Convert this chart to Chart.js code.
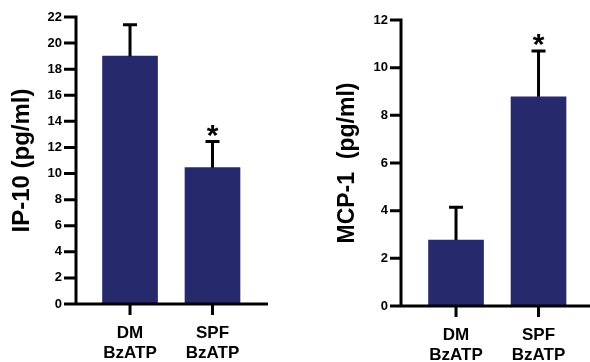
<!DOCTYPE html>
<html>
<head>
<meta charset="utf-8">
<script src="https://cdn.jsdelivr.net/npm/chart.js@4/dist/chart.umd.min.js"></script>
<style>
  html, body { margin: 0; padding: 0; background: #fff; }
  #wrap { position: relative; width: 590px; height: 362px; overflow: hidden; }
  .panel { position: absolute; top: 0; width: 295px; height: 362px; }
  #p1 { left: 0; }
  #p2 { left: 295px; }
</style>
</head>
<body>
<div id="wrap">
  <div class="panel" id="p1"><canvas id="c1"></canvas></div>
  <div class="panel" id="p2"><canvas id="c2"></canvas></div>
</div>
<script>
// ---- data ----
const categories = [["DM", "BzATP"], ["SPF", "BzATP"]];
const ip10Values = [19.0, 10.45];
const ip10Errors = [2.4, 2.0];
const ip10Stars = [false, true];
const mcp1Values = [2.77, 8.78];
const mcp1Errors = [1.37, 1.92];
const mcp1Stars = [false, true];
const ip10Ticks = { min: 0, max: 22, step: 2 };
const mcp1Ticks = { min: 0, max: 12, step: 2 };

const BAR = '#27296d';
const FONT = "'Liberation Sans', Arial, sans-serif";
const CLEAR = 'rgba(0,0,0,0)';

const errorPlugin = {
  id: 'errbars',
  afterDatasetsDraw(chart, args, opts) {
    const ctx = chart.ctx;
    const meta = chart.getDatasetMeta(0);
    const ys = chart.scales.y;
    ctx.save();
    meta.data.forEach((bar, i) => {
      const v = opts.values[i], e = opts.errors[i];
      const yBar = ys.getPixelForValue(v);
      const yTop = ys.getPixelForValue(v + e);
      ctx.strokeStyle = '#000';
      ctx.lineWidth = 3;
      ctx.beginPath();
      ctx.moveTo(bar.x, yBar);
      ctx.lineTo(bar.x, yTop);
      ctx.moveTo(bar.x - 7, yTop);
      ctx.lineTo(bar.x + 7, yTop);
      ctx.stroke();
      if (opts.stars[i]) {
        ctx.fillStyle = '#000';
        ctx.font = 'bold 30px ' + FONT;
        ctx.textAlign = 'center';
        ctx.textBaseline = 'alphabetic';
        ctx.fillText('*', bar.x, yTop + 3);
      }
    });
    ctx.restore();
  }
};

const axesPlugin = {
  id: 'axeslines',
  afterDraw(chart, args, opts) {
    const ctx = chart.ctx;
    const xs = chart.scales.x, ys = chart.scales.y;
    const a = chart.chartArea;
    ctx.save();
    ctx.strokeStyle = '#000';
    ctx.lineWidth = 3;
    ctx.lineCap = 'butt';
    ctx.beginPath();
    // y axis
    ctx.moveTo(a.left, a.top - 1.5);
    ctx.lineTo(a.left, a.bottom + 1.5);
    // x axis
    ctx.moveTo(a.left, a.bottom);
    ctx.lineTo(a.right, a.bottom);
    // y ticks
    ys.ticks.forEach(t => {
      const y = ys.getPixelForValue(t.value);
      ctx.moveTo(a.left - opts.yTickLen, y);
      ctx.lineTo(a.left, y);
    });
    // x ticks
    xs.ticks.forEach(t => {
      const x = xs.getPixelForValue(t.value);
      ctx.moveTo(x, a.bottom);
      ctx.lineTo(x, a.bottom + opts.xTickLen);
    });
    ctx.stroke();
    ctx.restore();
  }
};

function makeChart(id, values, errors, stars, yt, title, o) {
  return new Chart(document.getElementById(id), {
    type: 'bar',
    data: {
      datasets: [{
        data: values.map((v, i) => ({ x: i, y: v })),
        backgroundColor: BAR,
        borderWidth: 0,
        barThickness: 55
      }]
    },
    options: {
      responsive: true,
      maintainAspectRatio: false,
      animation: false,
      events: [],
      layout: { padding: { left: 0, right: o.padRight, top: o.padTop, bottom: 0 } },
      plugins: {
        legend: { display: false },
        tooltip: { enabled: false },
        errbars: { values, errors, stars },
        axeslines: { yTickLen: o.yTickLen, xTickLen: 11 }
      },
      scales: {
        x: {
          type: 'linear',
          offset: false,
          min: o.xMin,
          max: o.xMax,
          afterBuildTicks: (s) => { s.ticks = categories.map((c, i) => ({ value: i })); },
          afterFit: (s) => { s.height = o.xHeight; },
          grid: {
            offset: false,
            drawOnChartArea: false,
            drawTicks: true,
            tickLength: 11,
            color: CLEAR,
            tickColor: CLEAR
          },
          border: { display: false },
          ticks: {
            autoSkip: false,
            maxRotation: 0,
            padding: 8,
            color: '#000',
            font: { family: FONT, size: 17, weight: 'bold', lineHeight: 1.2 },
            callback: (v) => categories[v] || ''
          }
        },
        y: {
          min: yt.min,
          max: yt.max,
          afterFit: (s) => { s.width = o.yWidth; },
          grid: {
            drawOnChartArea: false,
            drawTicks: true,
            tickLength: o.yTickLen,
            color: CLEAR,
            tickColor: CLEAR
          },
          border: { display: false },
          ticks: {
            stepSize: yt.step,
            padding: 2,
            color: '#000',
            font: { family: FONT, size: 13, weight: 'bold' }
          },
          title: {
            display: true,
            text: title,
            color: '#000',
            font: { family: FONT, size: o.titleSize, weight: 'bold', lineHeight: 1.2 },
            padding: { top: o.titlePad, bottom: 0 }
          }
        }
      }
    },
    plugins: [errorPlugin, axesPlugin]
  });
}

makeChart('c1', ip10Values, ip10Errors, ip10Stars, ip10Ticks, 'IP-10 (pg/ml)', {
  padRight: 27, padTop: 17, xMin: -0.655, xMax: 1.673, xHeight: 58, yWidth: 76, yTickLen: 12, titlePad: 8, titleSize: 24
});
makeChart('c2', mcp1Values, mcp1Errors, mcp1Stars, mcp1Ticks, 'MCP-1  (pg/ml)', {
  padRight: 0, padTop: 20, xMin: -0.667, xMax: 1.624, xHeight: 56, yWidth: 106, yTickLen: 11, titlePad: 39, titleSize: 23
});
</script>
</body>
</html>
